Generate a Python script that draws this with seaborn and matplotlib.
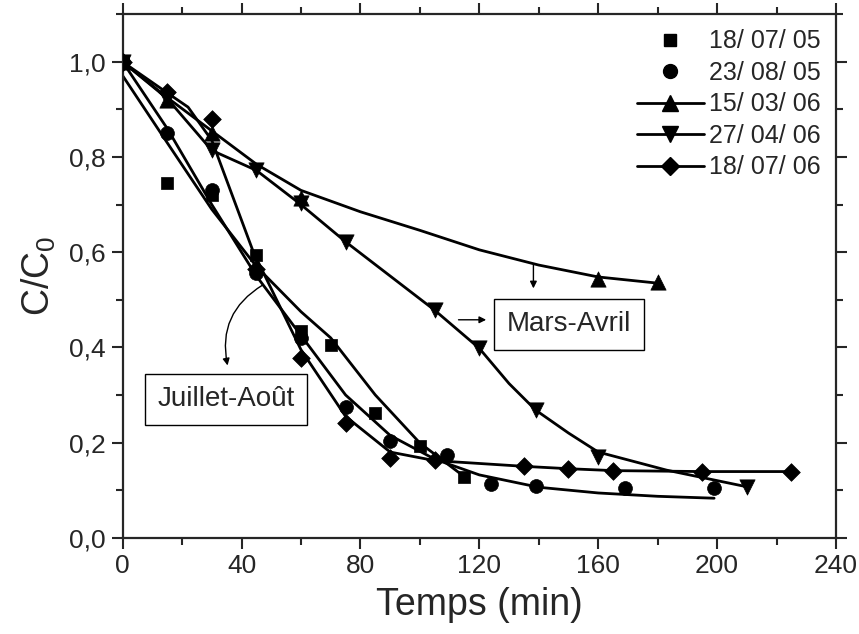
import numpy as np
import pandas as pd
import matplotlib
matplotlib.use('Agg')
import matplotlib.pyplot as plt
import seaborn as sns
from matplotlib.lines import Line2D
from matplotlib.ticker import MultipleLocator, FuncFormatter

# measured points (C/C0 against time in min)
t_sq = [0, 15, 30, 45, 60, 70, 85, 100, 115]
c_sq = [1.0, 0.745, 0.72, 0.595, 0.435, 0.405, 0.263, 0.193, 0.128]

t_ci = [0, 15, 30, 45, 60, 75, 90, 109, 124, 139, 169, 199]
c_ci = [1.0, 0.85, 0.73, 0.557, 0.42, 0.275, 0.204, 0.174, 0.113, 0.109, 0.105, 0.104]

t_up = [0, 15, 30, 60, 160, 180]
c_up = [1.0, 0.92, 0.85, 0.715, 0.543, 0.538]

t_dn = [0, 15, 30, 45, 60, 75, 105, 120, 139, 160, 210]
c_dn = [1.0, 0.923, 0.814, 0.772, 0.703, 0.622, 0.478, 0.398, 0.268, 0.170, 0.107]

t_di = [0, 15, 30, 45, 60, 75, 90, 105, 135, 150, 165, 195, 225]
c_di = [1.0, 0.937, 0.88, 0.565, 0.378, 0.242, 0.167, 0.163, 0.151, 0.144, 0.141, 0.139, 0.139]

# curves as drawn on the original figure
fit_sq_t = [0, 15, 30, 45, 60, 70, 85, 100, 115]
fit_sq_c = [0.971, 0.83, 0.69, 0.57, 0.475, 0.42, 0.30, 0.199, 0.128]

fit_ci_t = [0, 15, 30, 45, 60, 75, 90, 105, 120, 140, 160, 180, 199]
fit_ci_c = [1.0, 0.86, 0.70, 0.55, 0.425, 0.30, 0.215, 0.165, 0.132, 0.106, 0.094, 0.087, 0.083]

fit_up_t = [0, 15, 30, 45, 60, 80, 100, 120, 140, 160, 180]
fit_up_c = [1.0, 0.925, 0.855, 0.785, 0.73, 0.685, 0.646, 0.605, 0.573, 0.548, 0.535]

fit_dn_t = [0, 15, 30, 45, 60, 75, 105, 120, 130, 139, 150, 160, 183, 210]
fit_dn_c = [1.0, 0.923, 0.814, 0.772, 0.70, 0.622, 0.478, 0.398, 0.324, 0.268, 0.22, 0.18, 0.142, 0.107]

fit_di_t = [0, 15, 22, 30, 44, 60, 75, 90, 105, 135, 150, 165, 195, 225]
fit_di_c = [1.0, 0.935, 0.905, 0.835, 0.60, 0.395, 0.255, 0.18, 0.162, 0.15, 0.145, 0.141, 0.139, 0.139]

labels = ['18/ 07/ 05', '23/ 08/ 05', '15/ 03/ 06', '27/ 04/ 06', '18/ 07/ 06']
marks = ['s', 'o', '^', 'v', 'D']
sizes = [9, 10, 11, 11, 9]

sns.set_style('ticks')
plt.rcParams['font.family'] = ['Liberation Sans', 'DejaVu Sans']
plt.rcParams['mathtext.default'] = 'regular'

fig = plt.figure(figsize=(8.59, 6.34), dpi=100)
ax = fig.add_axes([0.1428, 0.1519, 0.8304, 0.8255])

curves = [(fit_sq_t, fit_sq_c), (fit_ci_t, fit_ci_c), (fit_up_t, fit_up_c),
          (fit_dn_t, fit_dn_c), (fit_di_t, fit_di_c)]
for tt, cc in curves:
    sns.lineplot(x=tt, y=cc, sort=False, estimator=None, color='black', lw=2, ax=ax)

points = [(t_sq, c_sq), (t_ci, c_ci), (t_up, c_up), (t_dn, c_dn), (t_di, c_di)]
for (tt, cc), m, s in zip(points, marks, sizes):
    sns.scatterplot(x=tt, y=cc, marker=m, s=s**2, color='black', edgecolor='black',
                    linewidth=0.5, ax=ax, zorder=3)

ax.set_xlim(0, 240)
ax.set_ylim(0, 1.1)
ax.xaxis.set_major_locator(MultipleLocator(40))
ax.xaxis.set_minor_locator(MultipleLocator(20))
ax.yaxis.set_major_locator(MultipleLocator(0.2))
ax.yaxis.set_minor_locator(MultipleLocator(0.1))
ax.yaxis.set_major_formatter(FuncFormatter(lambda v, p: f'{v:.1f}'.replace('.', ',')))
ax.tick_params(which='both', direction='out', top=True, right=True, width=1.5,
               labelsize=19, pad=4)
ax.tick_params(which='major', length=8)
ax.tick_params(which='minor', length=5)
for sp in ax.spines.values():
    sp.set_linewidth(1.6)
    sp.set_visible(True)

ax.set_xlabel('Temps (min)', fontsize=27, labelpad=6)
ax.set_ylabel('C/C$_0$', fontsize=27, labelpad=8)

# legend: first two without connecting line
handles = []
for i, (lab, m, s) in enumerate(zip(labels, marks, sizes)):
    ls = 'none' if i < 2 else '-'
    handles.append(Line2D([], [], color='black', marker=m, markersize=s, lw=2, ls=ls))
ax.legend(handles, labels, loc='upper right', frameon=False, fontsize=18,
          handlelength=2.7, handletextpad=0.2, labelspacing=0.3,
          borderaxespad=0.2, borderpad=0.4)

# annotations
box = dict(boxstyle='square,pad=0.45', fc='white', ec='black', lw=1)
ax.text(150.2, 0.449, 'Mars-Avril', fontsize=20, ha='center', va='center', bbox=box)
ax.text(34.7, 0.291, 'Juillet-Août', fontsize=20, ha='center', va='center', bbox=box)

arr = dict(arrowstyle='-|>', color='black', lw=1, mutation_scale=10, shrinkA=0, shrinkB=0)
ax.annotate('', xy=(122.3, 0.458), xytext=(113, 0.458), arrowprops=arr)
ax.annotate('', xy=(138.2, 0.524), xytext=(138.2, 0.573), arrowprops=arr)
ax.annotate('', xy=(35.3, 0.362), xytext=(47.1, 0.531),
            arrowprops=dict(arr, connectionstyle='arc3,rad=0.35'))

plt.savefig('out.png', dpi=100, facecolor='white')
